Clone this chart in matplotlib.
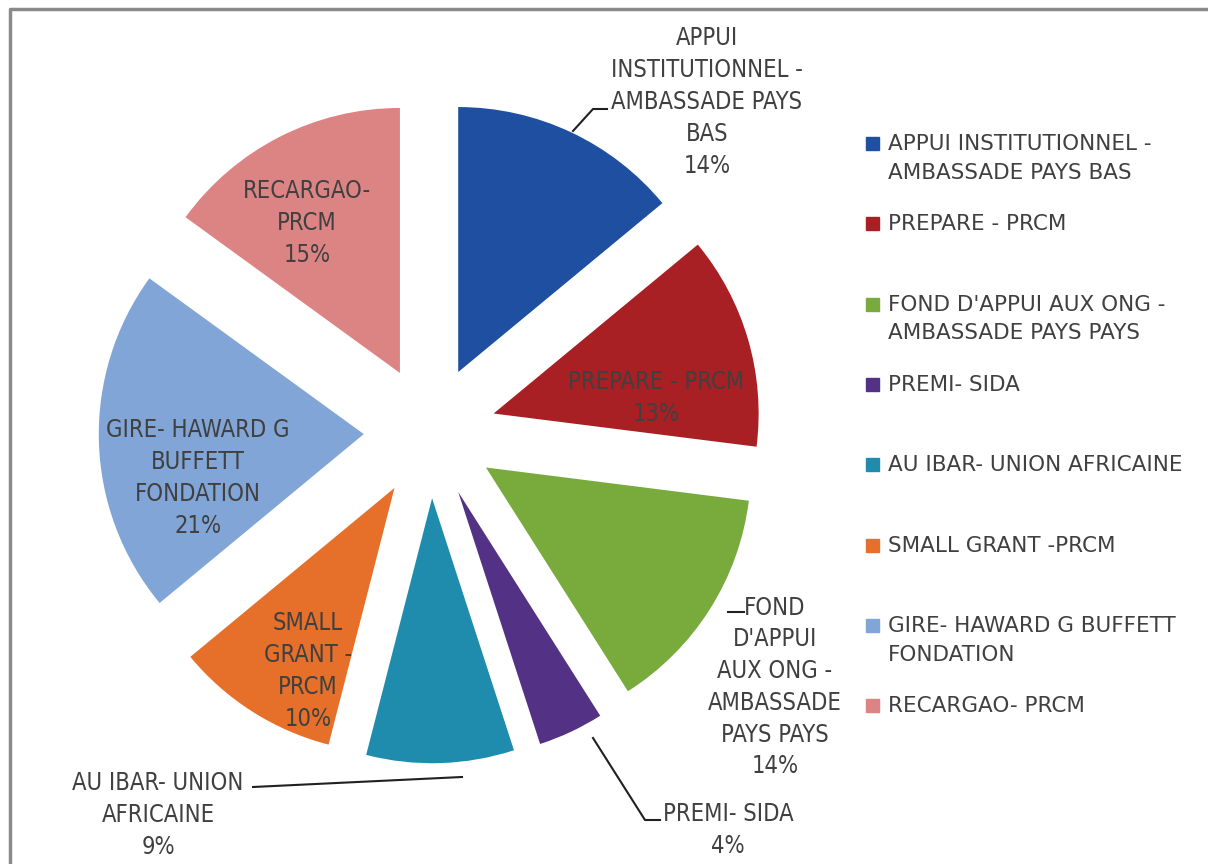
import matplotlib.pyplot as plt
from matplotlib.lines import Line2D
from matplotlib.patches import Rectangle

plt.rcParams['font.family'] = ['DejaVu Sans']

labels = ["APPUI INSTITUTIONNEL -\nAMBASSADE PAYS BAS", "PREPARE - PRCM",
          "FOND D'APPUI AUX ONG -\nAMBASSADE PAYS PAYS", "PREMI- SIDA",
          "AU IBAR- UNION AFRICAINE", "SMALL GRANT -PRCM",
          "GIRE- HAWARD G BUFFETT\nFONDATION", "RECARGAO- PRCM"]
values = [14, 13, 14, 4, 9, 10, 21, 15]
colors = ["#1f4fa0", "#a81f24", "#78aa3c", "#533184", "#1f8cae", "#e6702a", "#82a5d7", "#dc8484"]

# label text drawn on / beside each slice
slice_text = ["APPUI\nINSTITUTIONNEL -\nAMBASSADE PAYS\nBAS\n14%", "PREPARE - PRCM\n13%",
              "FOND\nD'APPUI\nAUX ONG -\nAMBASSADE\nPAYS PAYS\n14%", "PREMI- SIDA\n4%",
              "AU IBAR- UNION\nAFRICAINE\n9%", "SMALL\nGRANT -\nPRCM\n10%",
              "GIRE- HAWARD G\nBUFFETT\nFONDATION\n21%", "RECARGAO-\nPRCM\n15%"]

W, H = 1208, 864
fig = plt.figure(figsize=(W / 100, H / 100), dpi=100)

cx, cy, r = 430, 432, 265
lim = 1.6
size = 2 * lim * r
ax = fig.add_axes([(cx - size / 2) / W, (H - cy - size / 2) / H, size / W, size / H])
ax.pie(values, colors=colors, startangle=90, counterclock=False,
       explode=[0.25] * len(values), radius=1.0)
ax.set_xlim(-lim, lim)
ax.set_ylim(-lim, lim)
ax.axis('off')


def px(x, y):
    return (x - cx) / r, (cy - y) / r


txt_col = "#404040"
pos = [(707, 102), (656, 398), (775, 687), (728, 830),
       (158, 815), (308, 671), (198, 478), (307, 223)]
for t, (x, y) in zip(slice_text, pos):
    ax.text(*px(x, y), t, ha='center', va='center', fontsize=17, color=txt_col,
            fontstretch='condensed', linespacing=1.41, clip_on=False)

# leader lines
leaders = [[(573, 131), (593, 109), (607, 109)],
           [(728, 612), (744, 612)],
           [(593, 738), (645, 820), (660, 820)],
           [(253, 787), (462, 777)]]
for pts in leaders:
    xs, ys = zip(*[px(a, b) for a, b in pts])
    ax.plot(xs, ys, color="#202020", lw=1.5, clip_on=False)

# legend drawn by hand to keep the uneven Excel slots
first = 143
slot_h = 80.3
for i, (lab, c) in enumerate(zip(labels, colors)):
    y = first + i * slot_h
    fig.patches.append(Rectangle((866 / W, 1 - (y + 7) / H), 13 / W, 13 / H,
                                 transform=fig.transFigure, color=c))
    fig.text(888 / W, 1 - (y - 9) / H, lab, ha='left', va='top', fontsize=15.5,
             color=txt_col, linespacing=1.55)

# chart frame (cropped screenshot: only top and left edges show)
fig.add_artist(Line2D([10 / W, 10 / W, 1], [0, 1 - 9 / H, 1 - 9 / H],
                      transform=fig.transFigure, color="#8a8a8a", lw=2.5))

fig.savefig("out.png", dpi=100)
